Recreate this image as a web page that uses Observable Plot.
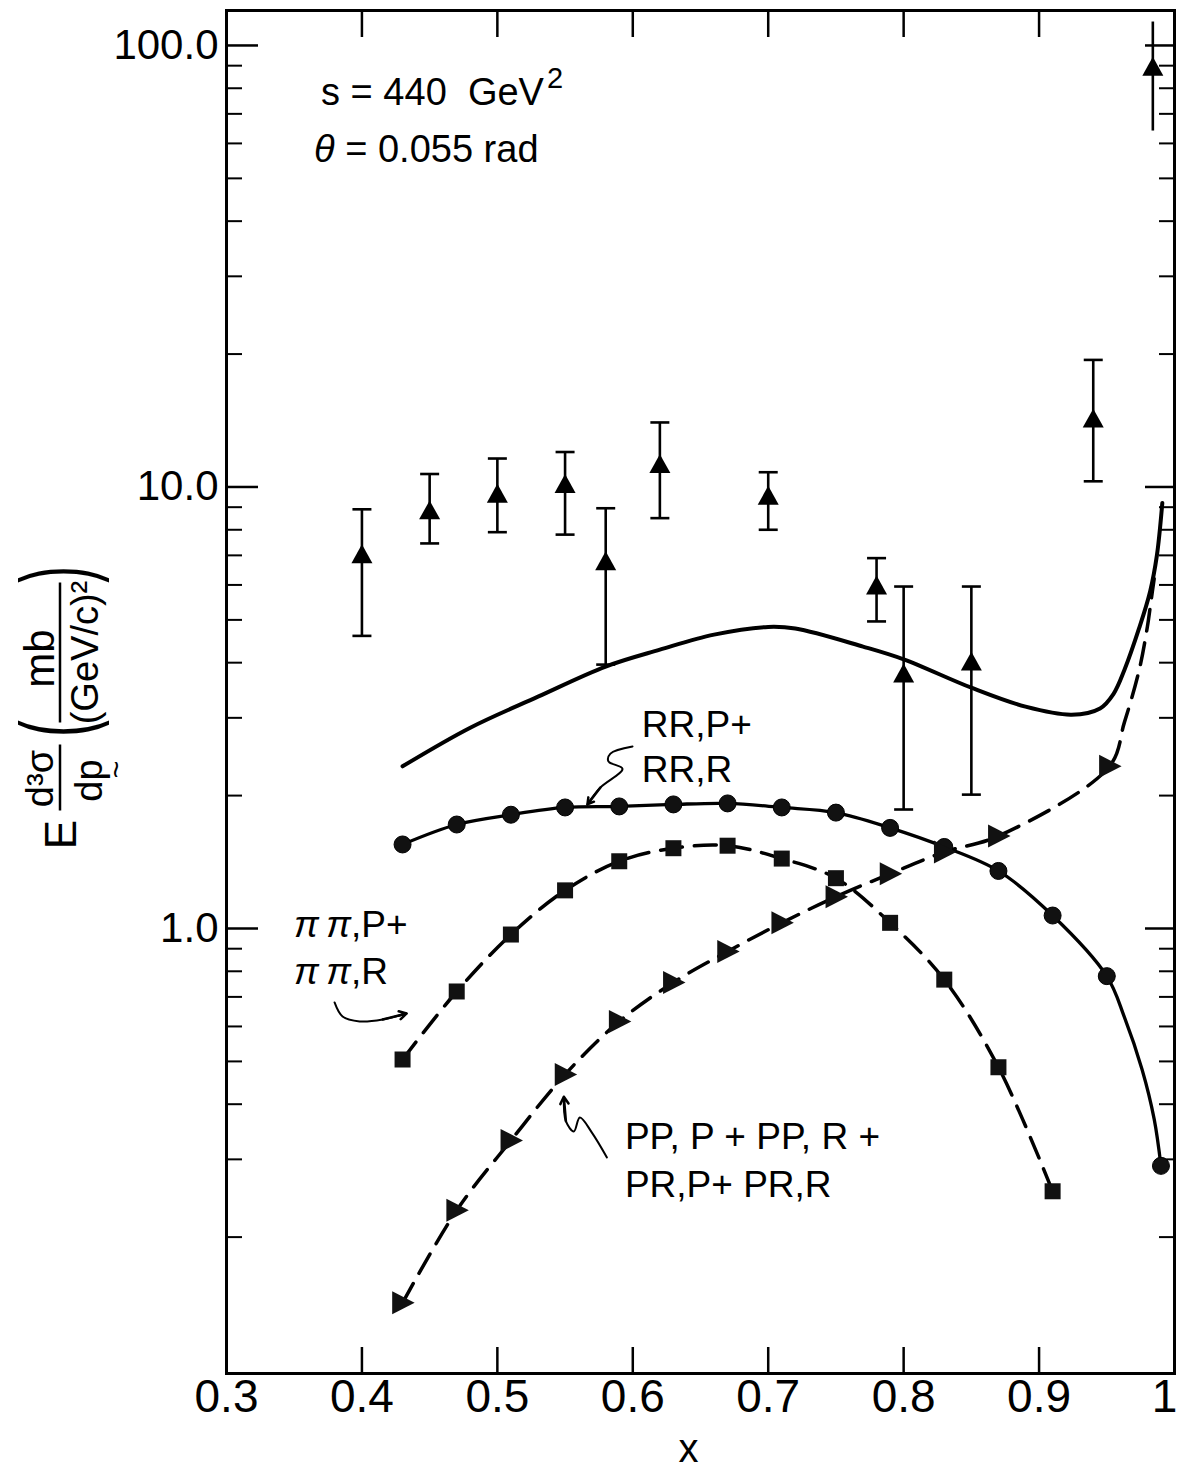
<!DOCTYPE html>
<html>
<head>
<meta charset="utf-8">
<script src="https://cdn.jsdelivr.net/npm/d3@7"></script>
<script src="https://cdn.jsdelivr.net/npm/@observablehq/plot@0.6"></script>
<style>
  html, body { margin: 0; padding: 0; background: #fff; }
  #chart svg { display: block; }
  #chart g[aria-label="y-axis tick-label"] text { letter-spacing: -3px; }
  #chart g[aria-label="x-axis tick-label"] text { letter-spacing: -4px; }
</style>
</head>
<body>
<div id="chart"></div>
<script>
const FONT = "'Liberation Sans', Arial, sans-serif";

// ---------- axes ----------
const xTickValues = [0.3, 0.4, 0.5, 0.6, 0.7, 0.8, 0.9];
const xTickLabels = ["0.3", "0.4", "0.5", "0.6", "0.7", "0.8", "0.9"];
const xEndTick = [1.0];
const xEndLabel = ["1"];
const xInnerTicks = [0.4, 0.5, 0.6, 0.7, 0.8, 0.9];
const yMajorTicks = [1, 10, 100];
const yMajorLabels = ["1.0", "10.0", "100.0"];
const yMinorTicks = [0.2, 0.3, 0.4, 0.5, 0.6, 0.7, 0.8, 0.9,
                     2, 3, 4, 5, 6, 7, 8, 9,
                     20, 30, 40, 50, 60, 70, 80, 90];

// ---------- measured points (triangles with error bars) ----------
const dataX  = [0.40, 0.45, 0.50, 0.55, 0.58, 0.62, 0.70, 0.78, 0.80, 0.85, 0.94, 0.984];
const dataY  = [7.0,  8.8,  9.6,  10.1, 6.75, 11.2, 9.5,  5.95, 3.76, 4.0,  14.2, 89];
const dataLo = [4.6,  7.45, 7.9,  7.8,  3.96, 8.5,  8.0,  4.96, 1.86, 2.01, 10.3, 64];
const dataHi = [8.9,  10.7, 11.6, 12.0, 8.95, 14.0, 10.8, 6.9,  5.95, 5.95, 19.4, 113];
const dataCapped = [true, true, true, true, true, true, true, true, true, true, true, false];

// ---------- total (solid curve, no markers) ----------
const totalX = [0.43, 0.48, 0.53, 0.58, 0.62, 0.66, 0.70, 0.72, 0.77, 0.80, 0.85, 0.89,
                0.924, 0.945, 0.955, 0.963, 0.974, 0.982, 0.987, 0.991];
const totalY = [2.33, 2.85, 3.35, 3.92, 4.28, 4.63, 4.82, 4.78, 4.35, 4.07, 3.51, 3.18,
                3.05, 3.15, 3.4, 3.85, 4.8, 5.8, 7.0, 9.2];

// ---------- RR,P + RR,R (solid with circles) ----------
const rrX = [0.43, 0.47, 0.51, 0.55, 0.59, 0.63, 0.67, 0.71, 0.75, 0.79, 0.83, 0.87, 0.91, 0.95, 0.99];
const rrY = [1.55, 1.72, 1.81, 1.88, 1.89, 1.91, 1.92, 1.88, 1.83, 1.69, 1.53, 1.35, 1.07, 0.78, 0.29];
const rrTailX = [0.963, 0.976, 0.985];
const rrTailY = [0.63, 0.48, 0.37];

// ---------- pi pi,P + pi pi,R (dashed with squares) ----------
const piX = [0.43, 0.47, 0.51, 0.55, 0.59, 0.63, 0.67, 0.71, 0.75, 0.79, 0.83, 0.87, 0.91];
const piY = [0.505, 0.72, 0.969, 1.22, 1.42, 1.52, 1.54, 1.44, 1.30, 1.03, 0.766, 0.485, 0.254];

// ---------- PP,P + PP,R + PR,P + PR,R (dashed with right triangles) ----------
const ppX = [0.43, 0.47, 0.51, 0.55, 0.59, 0.63, 0.67, 0.71, 0.75, 0.79, 0.83, 0.87, 0.952];
const ppY = [0.142, 0.23, 0.331, 0.467, 0.616, 0.755, 0.887, 1.03, 1.18, 1.33, 1.49, 1.62, 2.33];
const ppTailX = [0.963, 0.974, 0.98, 0.9825, 0.985];
const ppTailY = [2.93, 3.86, 4.83, 5.47, 6.2];

// ---------- annotations ----------
const headerX = [0.3702, 0.365];
const headerY = [73.1, 54.3];
const rrLabelText = ["RR,P+", "RR,R"];
const rrLabelX = [0.6067, 0.6067];
const rrLabelY = [2.71, 2.15];
const piLabelRest = [",P+", ",R"];
const piLabelX = [0.3503, 0.3503];
const piLabelY = [0.954, 0.747];
const ppLabelText = ["PP, P + PP, R +", "PR,P+ PR,R"];
const ppLabelX = [0.5942, 0.5942];
const ppLabelY = [0.316, 0.246];
const rrArrowX = [0.5998, 0.5835, 0.582, 0.5924, 0.5761, 0.5665];
const rrArrowY = [2.584, 2.49, 2.39, 2.30, 2.086, 1.91];
const piArrowX = [0.3798, 0.3857, 0.3983, 0.4153, 0.4330];
const piArrowY = [0.680, 0.632, 0.616, 0.622, 0.642];
const ppArrowX = [0.5809, 0.5698, 0.5609, 0.5565, 0.5506, 0.5491];
const ppArrowY = [0.303, 0.345, 0.373, 0.347, 0.366, 0.416];

// ---------- helpers ----------
const tbl = (xs, ys) => xs.map((x, i) => ({x, y: ys[i]}));
const merge = (a, b) => [...a, ...b].sort((p, q) => p.x - q.x);
const dataRows = dataX.map((x, i) => ({x, y: dataY[i], lo: dataLo[i], hi: dataHi[i], cap: dataCapped[i]}));
const capRows = dataRows.filter(d => d.cap);
const headOf = (xs, ys) => [{x1: xs[xs.length - 2], y1: ys[ys.length - 2], x2: xs[xs.length - 1], y2: ys[ys.length - 1]}];

const rad = (size) => Math.sqrt(size / Math.PI);
const symTriUp = {draw(c, s) { const r = rad(s); c.moveTo(0, -r * 1.05); c.lineTo(r, r * 0.75); c.lineTo(-r, r * 0.75); c.closePath(); }};
const symTriRight = {draw(c, s) { const r = rad(s); c.moveTo(r * 1.05, 0); c.lineTo(-r * 0.9, -r); c.lineTo(-r * 0.9, r); c.closePath(); }};
const symSquare = {draw(c, s) { const r = rad(s); c.rect(-r, -r, 2 * r, 2 * r); }};
const symCap = {draw(c, s) { const r = rad(s); c.moveTo(-r, 0); c.lineTo(r, 0); }};

// header text (with italic theta and superscript)
function headerMark(index, scales) {
  const g = d3.create("svg:g").attr("font-family", FONT).attr("fill", "#000")
    .attr("text-anchor", "start").style("white-space", "pre");
  const t1 = g.append("text").attr("x", scales.x(headerX[0])).attr("y", scales.y(headerY[0])).attr("font-size", 38);
  t1.append("tspan").text("s = 440  GeV");
  t1.append("tspan").attr("dy", -17).attr("dx", 3).attr("font-size", 29).text("2");
  const t2 = g.append("text").attr("x", scales.x(headerX[1])).attr("y", scales.y(headerY[1])).attr("font-size", 38);
  t2.append("tspan").attr("font-style", "italic").text("θ");
  t2.append("tspan").text(" = 0.055 rad");
  return g.node();
}

// pi pi labels with italic pi
function piLabelMark(index, scales) {
  const g = d3.create("svg:g").attr("font-family", FONT).attr("fill", "#000").attr("font-size", 37)
    .attr("text-anchor", "start").style("white-space", "pre");
  piLabelRest.forEach((rest, i) => {
    const t = g.append("text").attr("x", scales.x(piLabelX[i])).attr("y", scales.y(piLabelY[i]));
    t.append("tspan").attr("font-style", "italic").text("π\u2009π");
    t.append("tspan").text(rest);
  });
  return g.node();
}

// rotated y-axis label: E d³σ/dp (mb/(GeV/c)²)
function yLabelMark(index, scales, values, dim) {
  const cx = dim.marginLeft - 166;
  const cy = (dim.marginTop + dim.height - dim.marginBottom) / 2 + 23;
  const g = d3.create("svg:g").attr("font-family", FONT).attr("fill", "#000")
    .attr("transform", `translate(${cx},${cy}) rotate(-90)`);
  g.append("text").attr("x", -120).attr("y", 16).attr("text-anchor", "middle").attr("font-size", 44).text("E");
  g.append("text").attr("x", -64).attr("y", -7).attr("text-anchor", "middle").attr("font-size", 38).text("d³σ");
  g.append("line").attr("x1", -96).attr("x2", -30).attr("y1", 0).attr("y2", 0).attr("stroke", "#000").attr("stroke-width", 2.5);
  g.append("text").attr("x", -66).attr("y", 42).attr("text-anchor", "middle").attr("font-size", 38).text("dp");
  g.append("text").attr("x", -55).attr("y", 66).attr("text-anchor", "middle").attr("font-size", 30).text("~");
  g.append("text").attr("text-anchor", "middle").attr("font-size", 50)
    .attr("transform", "translate(-14,4) scale(1,1.95)").attr("y", 13).text("(");
  g.append("text").attr("x", 56).attr("y", -6).attr("text-anchor", "middle").attr("font-size", 42).text("mb");
  g.append("line").attr("x1", -8).attr("x2", 132).attr("y1", 0).attr("y2", 0).attr("stroke", "#000").attr("stroke-width", 2.5);
  g.append("text").attr("x", 62).attr("y", 38).attr("text-anchor", "middle").attr("font-size", 38).text("(GeV/c)²");
  g.append("text").attr("text-anchor", "middle").attr("font-size", 50)
    .attr("transform", "translate(140,4) scale(1,1.95)").attr("y", 13).text(")");
  return g.node();
}

const chart = Plot.plot({
  width: 1177,
  height: 1473,
  marginLeft: 226,
  marginRight: 3,
  marginTop: 10,
  marginBottom: 100,
  style: {fontFamily: FONT, fontSize: "40px", color: "#000", background: "#fff"},
  x: {type: "linear", domain: [0.3, 1.0]},
  y: {type: "log", domain: [0.0982, 120]},
  marks: [
    // inward ticks on all four sides
    Plot.axisY(yMinorTicks, {anchor: "left", tickSize: -16, strokeWidth: 2, fill: "none", label: null}),
    Plot.axisY(yMajorTicks, {anchor: "left", tickSize: -32, strokeWidth: 2.5, fill: "none", label: null}),
    Plot.axisY(yMinorTicks, {anchor: "right", tickSize: -16, strokeWidth: 2, fill: "none", label: null}),
    Plot.axisY(yMajorTicks, {anchor: "right", tickSize: -30, strokeWidth: 2.5, fill: "none", label: null}),
    Plot.axisX(xInnerTicks, {anchor: "bottom", tickSize: -26, strokeWidth: 2.5, fill: "none", label: null}),
    Plot.axisX(xInnerTicks, {anchor: "top", tickSize: -26, strokeWidth: 2.5, fill: "none", label: null}),
    // tick labels
    Plot.axisY(yMajorTicks, {anchor: "left", tickSize: 0, tickPadding: 8, fontSize: 42,
      tickFormat: d => yMajorLabels[yMajorTicks.indexOf(d)], label: null}),
    Plot.axisX(xTickValues, {anchor: "bottom", tickSize: 0, tickPadding: 6, fontSize: 46,
      tickFormat: d => xTickLabels[xTickValues.indexOf(d)], label: null}),
    Plot.axisX(xEndTick, {anchor: "bottom", tickSize: 0, tickPadding: 6, fontSize: 46, dx: -10,
      tickFormat: d => xEndLabel[xEndTick.indexOf(d)], label: null}),
    Plot.text(["x"], {frameAnchor: "bottom", dx: -12, dy: 88, lineAnchor: "bottom", fontSize: 40}),
    yLabelMark,
    Plot.frame({strokeWidth: 3}),

    // curves
    Plot.line(tbl(totalX, totalY), {x: "x", y: "y", curve: "catmull-rom", strokeWidth: 4}),
    Plot.line(merge(tbl(rrX, rrY), tbl(rrTailX, rrTailY)), {x: "x", y: "y", curve: "catmull-rom", strokeWidth: 3.3}),
    Plot.line(tbl(piX, piY), {x: "x", y: "y", curve: "catmull-rom", strokeWidth: 3.5, strokeDasharray: "22,12"}),
    Plot.line(merge(tbl(ppX, ppY), tbl(ppTailX, ppTailY)), {x: "x", y: "y", curve: "catmull-rom", strokeWidth: 3.5, strokeDasharray: "22,12"}),

    // markers
    Plot.dot(tbl(rrX, rrY), {x: "x", y: "y", r: 8.5, fill: "#111", stroke: "#000", strokeWidth: 1}),
    Plot.dot(tbl(piX, piY), {x: "x", y: "y", r: 8, symbol: symSquare, fill: "#111", stroke: "none"}),
    Plot.dot(tbl(ppX, ppY), {x: "x", y: "y", r: 11.5, symbol: symTriRight, fill: "#111", stroke: "none"}),

    // measured data with error bars
    Plot.ruleX(dataRows, {x: "x", y1: "lo", y2: "hi", strokeWidth: 2.6}),
    Plot.dot(capRows, {x: "x", y: "lo", r: 9.5, symbol: symCap, fill: "none", stroke: "#000", strokeWidth: 2.6}),
    Plot.dot(capRows, {x: "x", y: "hi", r: 9.5, symbol: symCap, fill: "none", stroke: "#000", strokeWidth: 2.6}),
    Plot.dot(dataRows, {x: "x", y: "y", r: 10.5, symbol: symTriUp, fill: "#000", stroke: "none"}),

    // annotations
    headerMark,
    Plot.text(rrLabelText, {x: rrLabelX, y: rrLabelY, text: d => d, textAnchor: "start", lineAnchor: "bottom", fontSize: 37}),
    piLabelMark,
    Plot.text(ppLabelText, {x: ppLabelX, y: ppLabelY, text: d => d, textAnchor: "start", lineAnchor: "bottom", fontSize: 37}),
    Plot.line(tbl(rrArrowX, rrArrowY), {x: "x", y: "y", curve: "catmull-rom", strokeWidth: 2}),
    Plot.arrow(headOf(rrArrowX, rrArrowY), {x1: "x1", y1: "y1", x2: "x2", y2: "y2", headLength: 14, strokeWidth: 2.5}),
    Plot.line(tbl(piArrowX, piArrowY), {x: "x", y: "y", curve: "catmull-rom", strokeWidth: 2}),
    Plot.arrow(headOf(piArrowX, piArrowY), {x1: "x1", y1: "y1", x2: "x2", y2: "y2", headLength: 14, strokeWidth: 2.5}),
    Plot.line(tbl(ppArrowX, ppArrowY), {x: "x", y: "y", curve: "catmull-rom", strokeWidth: 2}),
    Plot.arrow(headOf(ppArrowX, ppArrowY), {x1: "x1", y1: "y1", x2: "x2", y2: "y2", headLength: 14, strokeWidth: 2.5})
  ]
});

document.getElementById("chart").appendChild(chart);
</script>
</body>
</html>
